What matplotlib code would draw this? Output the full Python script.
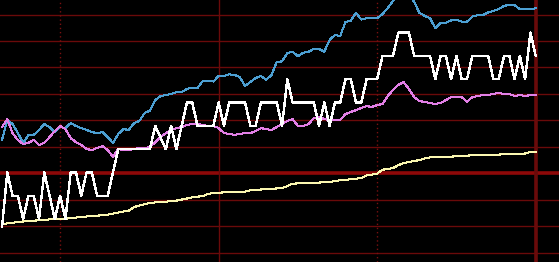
import matplotlib
matplotlib.use("Agg")
import matplotlib.pyplot as plt
import numpy as np

# ---- data ----
blue = [12.6, 20.2, 18.6, 15.2, 11.5, 14.5, 14.5, 16.4, 18.6, 17.5,
        15.6, 17.5, 17.1, 19.0, 17.9, 17.1, 16.4, 15.6, 15.2, 15.6,
        13.7, 11.5, 14.9, 16.7, 16.4, 19.0, 19.8, 22.8, 23.7, 27.7,
        29.2, 29.6, 30.0, 30.7, 30.7, 31.9, 32.4, 32.2, 34.9, 35.0,
        34.7, 36.8, 36.8, 37.4, 37.2, 36.4, 33.0, 34.5, 36.0, 36.8,
        35.3, 37.2, 42.1, 42.3, 45.5, 45.9, 44.3, 45.6, 45.9, 47.0,
        47.0, 46.0, 50.4, 52.3, 51.9, 57.2, 57.7, 60.7, 58.1, 58.6,
        58.6, 58.6, 60.2, 62.5, 65.1, 67.4, 68.5, 67.4, 64.8, 60.6,
        59.5, 58.6, 54.9, 56.9, 56.9, 57.8, 58.1, 57.3, 57.3, 59.2,
        59.8, 59.8, 60.8, 61.4, 62.1, 63.3, 63.6, 63.6, 62.0, 62.0,
        62.0, 62.4]

pink = [17.5, 20.5, 15.2, 12.6, 11.1, 11.5, 12.6, 10.7, 11.5, 13.7,
        16.0, 17.9, 16.7, 13.3, 11.8, 10.7, 9.2, 8.8, 9.6, 10.3,
        8.8, 6.2, 9.2, 8.8, 8.8, 9.2, 9.6, 9.6, 9.9, 11.8,
        13.7, 15.2, 16.4, 17.1, 17.5, 18.3, 18.6, 18.6, 18.3, 17.9,
        17.9, 17.1, 15.2, 14.9, 14.5, 14.9, 15.2, 15.2, 16.0, 17.1,
        16.7, 16.4, 17.5, 18.6, 19.8, 20.5, 17.9, 17.9, 18.6, 20.9,
        21.3, 20.5, 20.2, 20.2, 20.2, 22.4, 23.2, 23.9, 24.7, 25.4,
        25.1, 25.8, 26.2, 29.2, 31.5, 33.4, 34.5, 31.9, 28.8, 27.3,
        27.0, 26.6, 26.2, 26.6, 27.7, 28.8, 28.8, 28.8, 27.0, 28.8,
        29.2, 29.6, 29.6, 30.0, 30.4, 30.0, 30.0, 29.2, 29.6, 29.2,
        29.6, 29.6]

yellow = [-19.4, -18.9, -18.7, -18.4, -18.2, -18.0, -17.9, -17.7, -17.6, -17.4,
          -17.3, -17.2, -17.1, -17.0, -16.7, -16.5, -16.3, -16.1, -16.0, -15.8,
          -15.6, -15.2, -14.8, -14.4, -14.1, -12.7, -12.2, -11.6, -11.2, -11.0,
          -10.9, -10.7, -10.5, -10.3, -9.9, -9.5, -9.1, -8.8, -8.6, -7.8,
          -7.4, -7.3, -7.2, -7.0, -7.0, -7.0, -6.9, -6.4, -6.3, -6.1,
          -6.0, -5.9, -5.7, -5.6, -4.8, -3.9, -3.8, -3.7, -3.7, -3.6,
          -3.5, -3.3, -3.2, -3.0, -2.6, -2.5, -2.2, -2.0, -1.8, -0.8,
          -0.5, -0.1, 1.4, 1.6, 2.0, 3.1, 3.9, 4.3, 4.7, 5.0,
          5.6, 6.0, 6.0, 6.2, 6.2, 6.3, 6.5, 6.5, 6.7, 6.8,
          6.8, 6.9, 6.9, 7.0, 7.1, 7.2, 7.3, 7.4, 7.4, 7.5,
          8.1, 8.2]

white = [-0.35, 2, 1, 1, 0, 1, 1, 0, 2, 1,
         0, 1, 0, 2, 2, 1, 2, 2, 1, 1,
         1, 2, 3, 3, 3, 3, 3, 3, 3, 4,
         3.5, 3, 4, 3, 4, 5, 5, 4, 4, 4,
         4, 5, 4, 5, 5, 5, 5, 4, 4, 5,
         5, 5, 5, 4, 6, 5, 5, 5, 5, 5,
         4, 5, 4, 5, 5, 6, 6, 5, 5, 6,
         6, 6, 7, 7, 7, 8, 8, 8, 7, 7,
         7, 7, 6, 7, 7, 6, 7, 6, 6, 7,
         7, 7, 7, 6, 6, 7, 7, 6, 7, 6,
         8, 7]

h_grid = [-30, -20, -10, 10, 20, 30, 40, 50, 60]
zero_line = 0
v_dotted = [11, 71]
v_solid = [41]
v_thick = [101]

# ---- figure ----
fig = plt.figure(figsize=(5.59, 2.62), dpi=100, facecolor="black")
ax = fig.add_axes([0, 0, 1, 1])
ax.set_facecolor("black")
x = np.arange(len(blue))

grid_c = "#6a0a0a"
for g in h_grid:
    ax.axhline(g, color=grid_c, lw=1.0, zorder=1)
ax.axhline(zero_line, color="#8e0808", lw=2.6, zorder=1)
for v in v_dotted:
    ax.axvline(v, color="#7a1010", lw=1.0, ls=(0, (1, 2)), zorder=1)
for v in v_solid:
    ax.axvline(v, color=grid_c, lw=1.0, zorder=1)
for v in v_thick:
    ax.axvline(v, color=grid_c, lw=2.6, zorder=1)

ax.plot(x, blue, color="#4c9fd2", lw=0.75, antialiased=False, zorder=3)
ax.plot(x, pink, color="#e27fe6", lw=0.75, antialiased=False, zorder=3)
ax.plot(x, yellow, color="#fbf7b0", lw=0.75, antialiased=False, zorder=3)

ax.set_xlim(-0.38, 105.41)
ax.set_ylim(-33.5, 65.5)
ax.axis("off")

ax2 = ax.twinx()
ax2.set_position([0, 0, 1, 1])
ax2.plot(x, white, color="white", lw=1.0, antialiased=False, zorder=4)
ax2.set_ylim(-1.845, 9.40)
ax2.set_xlim(-0.38, 105.41)
ax2.axis("off")

fig.savefig("out.png", dpi=100, facecolor="black")
